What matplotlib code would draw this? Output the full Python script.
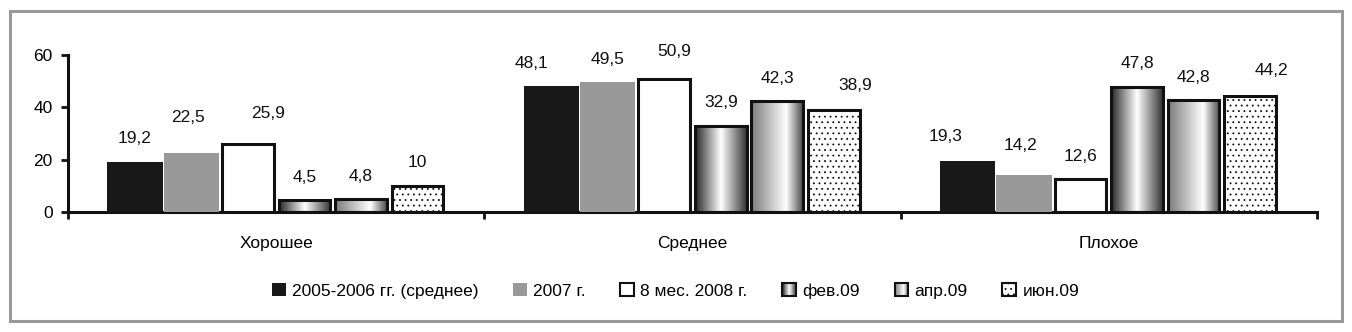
import numpy as np
import matplotlib
matplotlib.use("Agg")
import matplotlib.pyplot as plt
from matplotlib.patches import Rectangle, Patch
from matplotlib.colors import LinearSegmentedColormap
from matplotlib.legend_handler import HandlerBase

# ---------------- data ----------------
categories = ["Хорошее", "Среднее", "Плохое"]
series_names = ["2005-2006 гг. (среднее)", "2007 г.", "8 мес. 2008 г.",
                "фев.09", "апр.09", "июн.09"]
s_2005_2006 = [19.2, 48.1, 19.3]
s_2007 = [22.5, 49.5, 14.2]
s_8m_2008 = [25.9, 50.9, 12.6]
s_feb09 = [4.5, 32.9, 47.8]
s_apr09 = [4.8, 42.3, 42.8]
s_jun09 = [10, 38.9, 44.2]
series_values = [s_2005_2006, s_2007, s_8m_2008, s_feb09, s_apr09, s_jun09]
y_ticks = [0, 20, 40, 60]

# ---------------- style ----------------
FONT = ["Liberation Sans", "DejaVu Sans"]
plt.rcParams["font.family"] = FONT
FS = 12.5

cmap_feb = LinearSegmentedColormap.from_list(
    "feb", [(0, "#262626"), (0.5, "#ffffff"), (1, "#333333")])
cmap_apr = LinearSegmentedColormap.from_list(
    "apr", [(0, "#7a7a7a"), (0.68, "#ffffff"), (1, "#4a4a4a")])

styles = [
    dict(face="#181818", edge="none", lw=0, hatch=None, cmap=None, w=0.133),
    dict(face="#999999", edge="none", lw=0, hatch=None, cmap=None, w=0.133),
    dict(face="white", edge="#111111", lw=2.2, hatch=None, cmap=None, w=0.124),
    dict(face="none", edge="#111111", lw=2.2, hatch=None, cmap=cmap_feb, w=0.124),
    dict(face="none", edge="#111111", lw=2.2, hatch=None, cmap=cmap_apr, w=0.124),
    dict(face="white", edge="#111111", lw=2.2, hatch="...", cmap=None, w=0.124),
]
pitch = 0.1357

# label nudges in pixels (dx, dy) per (series, category)
nudges = {(2, 0): (20, 8), (1, 0): (-3, 13), (0, 1): (-20, 0), (2, 1): (10, 4),
          (5, 1): (21, 2), (0, 2): (-22, 2), (1, 2): (-4, 6), (5, 2): (21, 3)}

W, H = 1352, 332
fig = plt.figure(figsize=(W / 100, H / 100), dpi=100)
ax = fig.add_axes([68 / W, (H - 212) / H, (1317 - 68) / W, 157 / H])

plt.rcParams["hatch.linewidth"] = 0.6
x = np.arange(len(categories))
for i, (vals, st) in enumerate(zip(series_values, styles)):
    pos = x + (i - 2.5) * pitch
    bars = ax.bar(pos, vals, width=st["w"], color=st["face"],
                  edgecolor=st["edge"], linewidth=st["lw"],
                  hatch=st["hatch"], zorder=3)
    if st["cmap"] is not None:
        grad = np.linspace(0, 1, 256)[np.newaxis, :]
        for b in bars:
            ax.imshow(grad, cmap=st["cmap"], aspect="auto", zorder=2.5,
                      extent=[b.get_x(), b.get_x() + b.get_width(), 0, b.get_height()],
                      interpolation="bilinear")
    for j, b in enumerate(bars):
        dx, dy = nudges.get((i, j), (0, 0))
        lbl = ("%g" % vals[j]).replace(".", ",")
        ax.annotate(lbl, (b.get_x() + b.get_width() / 2, b.get_height()),
                    xytext=(dx, 23 + dy), textcoords="offset pixels",
                    ha="center", va="center", fontsize=FS, color="#111111")

ax.set_xlim(-0.5, len(categories) - 0.5)
ax.set_ylim(0, 60)
ax.set_yticks(y_ticks)
ax.set_yticklabels([str(t) for t in y_ticks], fontsize=FS)
ax.set_xticks(x)
ax.set_xticklabels(categories, fontsize=FS)
ax.set_xticks(np.arange(-0.5, len(categories)), minor=True)
ax.tick_params(axis="x", which="major", length=0, pad=17)
ax.tick_params(axis="x", which="minor", length=5, width=2, color="#111111", direction="out")
ax.tick_params(axis="y", length=5, width=2, color="#111111", pad=6)
for s in ["top", "right"]:
    ax.spines[s].set_visible(False)
for s in ["left", "bottom"]:
    ax.spines[s].set_linewidth(2.2)
    ax.spines[s].set_color("#111111")
ax.patch.set_visible(False)


class GradHandler(HandlerBase):
    def __init__(self, cmap):
        super().__init__()
        self.cmap = cmap

    def create_artists(self, legend, orig_handle, xdescent, ydescent, width,
                       height, fontsize, trans):
        arts = []
        n = 24
        for k in range(n):
            arts.append(Rectangle((-xdescent + width * k / n, -ydescent),
                                  width / n + 0.3, height,
                                  facecolor=self.cmap((k + 0.5) / n),
                                  edgecolor="none", transform=trans))
        arts.append(Rectangle((-xdescent, -ydescent), width, height,
                              facecolor="none", edgecolor="#111111",
                              linewidth=1.5, transform=trans))
        return arts


handles = []
hmap = {}
for name, st in zip(series_names, styles):
    p = Patch(facecolor=st["face"] if st["face"] != "none" else "white",
              edgecolor=st["edge"] if st["edge"] != "none" else st["face"],
              linewidth=1.5 if st["lw"] else 0, hatch=st["hatch"], label=name)
    handles.append(p)
    if st["cmap"] is not None:
        hmap[p] = GradHandler(st["cmap"])

leg = fig.legend(handles=handles, handler_map=hmap, loc="center",
                 bbox_to_anchor=(675.5 / W, 1 - 291 / H), ncol=6, frameon=False,
                 fontsize=FS, handlelength=0.8, handleheight=0.8,
                 handletextpad=0.35, columnspacing=2.0, borderpad=0,
                 borderaxespad=0)

fig.patches.append(Rectangle((10 / W, (H - 321) / H), 1332 / W, 310 / H,
                             transform=fig.transFigure, fill=False,
                             edgecolor="#999999", linewidth=2.2))

fig.savefig("out.png", dpi=100)
